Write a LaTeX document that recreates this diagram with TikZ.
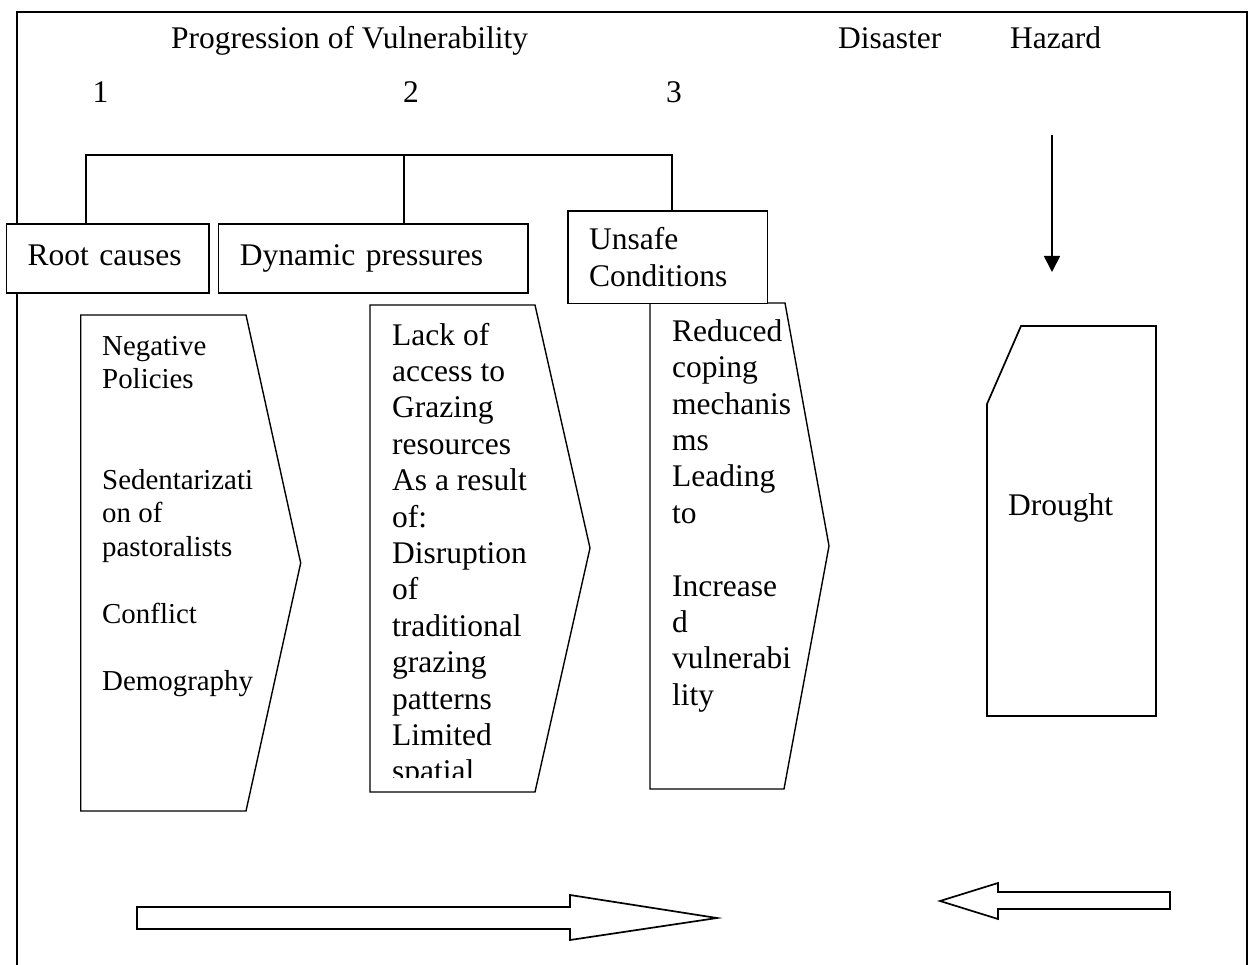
\documentclass[tikz,border=0pt]{standalone}
\usepackage{fontspec}
\setmainfont{Liberation Serif}
\usetikzlibrary{arrows.meta}
\begin{document}
\begin{tikzpicture}[x=1pt,y=-1pt,
  twelve/.style={font=\fontsize{31.5}{36.4}\selectfont},
  eleven/.style={font=\fontsize{28.9}{33.5}\selectfont},
  frameline/.style={line width=1.7pt},
  box/.style={draw, line width=1.7pt, fill=white, anchor=north west, inner sep=0pt, align=left},
  chev/.style={draw, line width=1.4pt, fill=white, line join=miter},
  txt/.style={anchor=north west, inner sep=0pt, align=left},
  lbl/.style={anchor=base west, inner sep=0pt},
  blockarrow/.style={draw, line width=1.7pt, fill=white, line join=miter},
]
\useasboundingbox (0,0) rectangle (1252,965);

% outer frame (open at the bottom)
\draw[frameline] (17,965) -- (17,12) -- (1247,12) -- (1247,965);

% header texts
\node[lbl, twelve] (title) at (171,49) {Progression of Vulnerability};
\node[lbl, twelve] (disaster) at (838,49) {Disaster};
\node[lbl, twelve] (hazard) at (1010,49) {Hazard};
\node[lbl, twelve] (n1) at (92.5,103) {1};
\node[lbl, twelve] (n2) at (403,103) {2};
\node[lbl, twelve] (n3) at (666,103) {3};

% chevrons
\draw[chev] (80.7,315) -- (246,315) -- (300.7,563) -- (246,811) -- (80.7,811) -- cycle;
\draw[chev] (370,305) -- (535,305) -- (590,548) -- (535,792) -- (370,792) -- cycle;
\draw[chev] (650,303) -- (785,303) -- (829,546) -- (784,789) -- (650,789) -- cycle;

% boxes
\node[box, twelve, minimum width=202.6pt, minimum height=68.7pt, text width=160.6pt]
  (root) at (5.7,223.3) {\strut Root causes};
\node[box, twelve, minimum width=309.3pt, minimum height=68.7pt, text width=266.7pt]
  (dyn) at (217.7,223.3) {\strut Dynamic pressures};
\node[box, twelve, minimum width=199.4pt, minimum height=92.7pt, text width=157.4pt]
  (unsafe) at (567.3,210) {\rule{0pt}{32.5pt}Unsafe\\Conditions\strut};

% bracket
\coordinate (b1) at (86,155);
\coordinate (b2) at (404,155);
\coordinate (b3) at (672,155);
\draw[frameline] (b1 |- root.north) -- (b1) -- (b3) -- (b3 |- unsafe.north);
\draw[frameline] (b2) -- (b2 |- dyn.north);

% chevron texts
\node[txt, eleven] (c1) at (102,331.55)
  {\strut Negative\\Policies\\\mbox{}\\\mbox{}\\Sedentarizati\\on of\\pastoralists\\\mbox{}\\Conflict\\\mbox{}\\Demography};
\begin{scope}
  \clip (372,307) rectangle (533,777);
  \node[txt, twelve] (c2) at (392,319.5)
    {\strut Lack of\\access to\\Grazing\\resources\\As a result\\of:\\Disruption\\of\\traditional\\grazing\\patterns\\Limited\\spatial};
\end{scope}
\node[txt, twelve] (c3) at (672,315.6)
  {\strut Reduced\\coping\\mechanis\\ms\\Leading\\to\\\mbox{}\\Increase\\d\\vulnerabi\\lity};

% hazard arrow
\coordinate (hz) at (1052,135);
\coordinate (hzend) at (1052,272);
\draw[line width=1.7pt, -{Triangle[width=16pt,length=16pt]}] (hz) -- (hzend);

% drought shape
\draw[chev, line width=1.7pt] (1021,326) -- (1156,326) -- (1156,716) -- (987,716) -- (987,404) -- cycle;
\node[lbl, twelve] (drought) at (1008,515) {Drought};

% block arrows
\draw[blockarrow] (137,907) -- (570,907) -- (570,895) -- (717,918) -- (570,940) -- (570,929) -- (137,929) -- cycle;
\draw[blockarrow] (1170,892) -- (998,892) -- (998,883) -- (940,901) -- (998,919) -- (998,909) -- (1170,909) -- cycle;

\end{tikzpicture}
\end{document}
